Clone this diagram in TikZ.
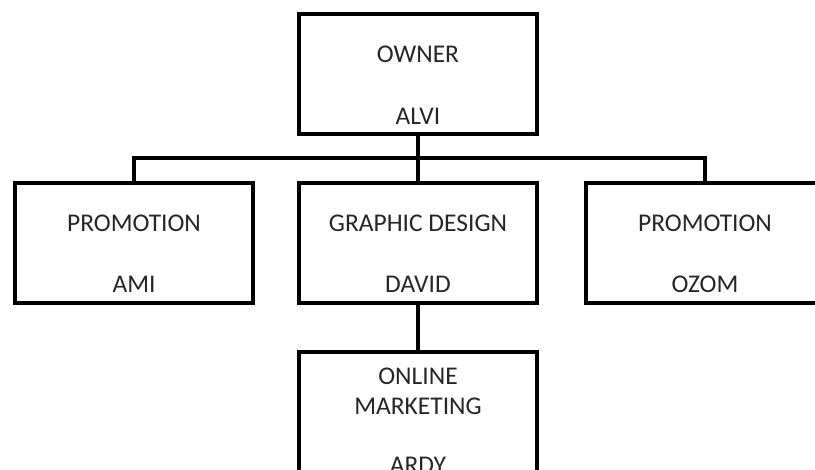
\documentclass[tikz,border=0pt]{standalone}
\usepackage{fontspec}
\setmainfont{Carlito}

\begin{document}
\begin{tikzpicture}
    [
    x = 1pt, y = -1pt,
    every node/.style = {font=\fontsize{25.5}{30}\selectfont, text=black!85},
    post/.style       = {draw, line width=4pt, minimum width=238pt, minimum height=120pt, inner sep=0pt},
    role/.style       = {inner sep=0pt, align=center},
    link/.style       = {line width=4pt}
    ]
    \useasboundingbox (0,0) rectangle (815,470);
    \clip (0,0) rectangle (815,470);

    % boxes
    \node [post] (owner)       at (418,74)  {};
    \node [post] (promo-left)  at (134,243) {};
    \node [post] (design)      at (418,243) {};
    \node [post] (promo-right) at (705,243) {};
    \node [post] (marketing)   at (418,412) {};

    % texts
    \node [role] (owner-role)  at ([yshift=-42pt]owner.north)       {OWNER};
    \node [role] (owner-name)  at ([yshift=-104pt]owner.north)      {ALVI};
    \node [role] (left-role)   at ([yshift=-42pt]promo-left.north)  {PROMOTION};
    \node [role] (left-name)   at ([yshift=-103pt]promo-left.north) {AMI};
    \node [role] (design-role) at ([yshift=-42pt]design.north)      {GRAPHIC DESIGN};
    \node [role] (design-name) at ([yshift=-103pt]design.north)     {DAVID};
    \node [role] (right-role)  at ([yshift=-42pt]promo-right.north) {PROMOTION};
    \node [role] (right-name)  at ([yshift=-103pt]promo-right.north){OZOM};
    \node [role] (market-role) at ([yshift=-41pt]marketing.north)   {ONLINE\\MARKETING};
    \node [role] (market-name) at ([yshift=-115pt]marketing.north)  {ARDY};

    % connectors
    \coordinate (fork) at (418,158);
    \draw [link] (owner) -- (design);
    \draw [link] (promo-left.north) |- (fork) -| (promo-right.north);
    \draw [link] (design) -- (marketing);
\end{tikzpicture}
\end{document}
